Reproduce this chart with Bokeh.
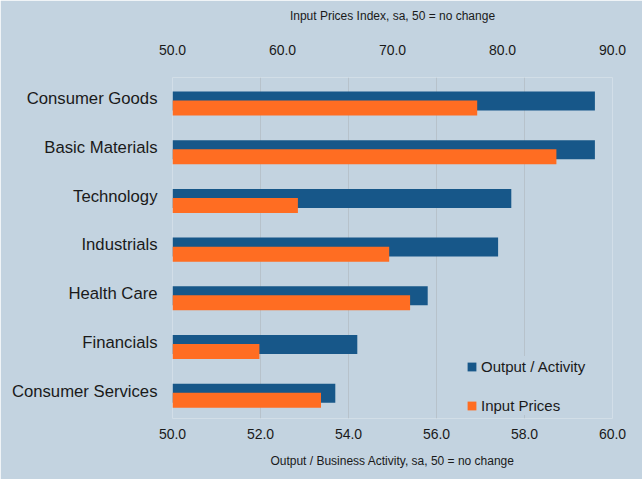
from bokeh.plotting import figure
from bokeh.models import (Range1d, LinearAxis, FixedTicker,
                          PrintfTickFormatter, Legend, LegendItem, ColumnDataSource)
from bokeh.transform import dodge
from bokeh.embed import file_html
from bokeh.resources import INLINE

categories = ["Consumer Goods", "Basic Materials", "Technology", "Industrials",
              "Health Care", "Financials", "Consumer Services"]
output_activity = [59.6, 59.6, 57.7, 57.4, 55.8, 54.2, 53.7]
input_prices = [77.7, 84.9, 61.4, 69.7, 71.6, 57.9, 63.5]
bottom_ticks = [50, 52, 54, 56, 58, 60]
top_ticks = [50, 60, 70, 80, 90]

BG = "#C3D3E0"
BLUE = "#175789"
ORANGE = "#FF6D22"
TXT = "#1A1A1A"
FONT = "Liberation Sans"

n = len(categories)
ypos = list(range(n - 1, -1, -1))  # first category at top
src = ColumnDataSource(dict(cat=categories, y=ypos, out=output_activity, inp=input_prices))

p = figure(width=642, height=479, output_backend="svg", toolbar_location=None,
           y_range=Range1d(-0.563, n - 0.563),
           x_range=Range1d(50, 60), x_axis_location="below",
           min_border_left=172, min_border_right=30, min_border_top=77, min_border_bottom=61)
p.extra_x_ranges = {"input": Range1d(50, 90)}

p.background_fill_color = BG
p.border_fill_color = BG
p.outline_line_color = None

r_out = p.hbar(y=dodge("y", -0.045), right="out", left=50, height=0.39,
               source=src, fill_color=BLUE, line_color=None)
r_in = p.hbar(y=dodge("y", -0.189), right="inp", left=50, height=0.308,
              source=src, fill_color=ORANGE, line_color=None, x_range_name="input")

xa = p.xaxis[0]
xa.ticker = FixedTicker(ticks=bottom_ticks)
xa.formatter = PrintfTickFormatter(format="%.1f")
xa.axis_label = "Output / Business Activity, sa, 50 = no change"

top = LinearAxis(x_range_name="input", ticker=FixedTicker(ticks=top_ticks),
                 formatter=PrintfTickFormatter(format="%.1f"),
                 axis_label="Input Prices Index, sa, 50 = no change")
p.add_layout(top, "above")

for ax in [xa, top]:
    ax.axis_line_color = None
    ax.major_tick_line_color = None
    ax.minor_tick_line_color = None
    ax.major_tick_out = 0
    ax.major_tick_in = 0
    ax.minor_tick_out = 0
    ax.major_label_text_font = FONT
    ax.major_label_text_font_size = "14px"
    ax.major_label_text_color = TXT
    ax.axis_label_text_font = FONT
    ax.axis_label_text_font_size = "12px"
    ax.axis_label_text_font_style = "normal"
    ax.axis_label_text_color = TXT
xa.major_label_standoff = 10
xa.axis_label_standoff = 12
top.major_label_standoff = 23
top.axis_label_standoff = 19

ya = p.yaxis[0]
ya.ticker = FixedTicker(ticks=ypos)
ya.major_label_overrides = {y: c for y, c in zip(ypos, categories)}
ya.axis_line_color = None
ya.major_tick_line_color = None
ya.minor_tick_line_color = None
ya.major_tick_out = 0
ya.major_tick_in = 0
ya.minor_tick_out = 0
ya.major_label_text_font = FONT
ya.major_label_text_font_size = "16.7px"
ya.major_label_text_color = TXT
ya.major_label_standoff = 15

p.ygrid.grid_line_color = None
p.xgrid.grid_line_color = "#B7C2CB"
p.xgrid.grid_line_width = 1

legend = Legend(items=[LegendItem(label="Output / Activity", renderers=[r_out]),
                       LegendItem(label="Input Prices", renderers=[r_in])],
                location=(294, 3), orientation="vertical",
                glyph_width=11, glyph_height=11, label_height=20, spacing=19,
                padding=1, margin=0, label_standoff=4,
                label_text_font=FONT, label_text_font_size="15px", label_text_color=TXT,
                background_fill_color=BG, background_fill_alpha=1.0,
                border_line_color=None)
p.add_layout(legend, "center")

open("out.html", "w").write(file_html(p, INLINE))
